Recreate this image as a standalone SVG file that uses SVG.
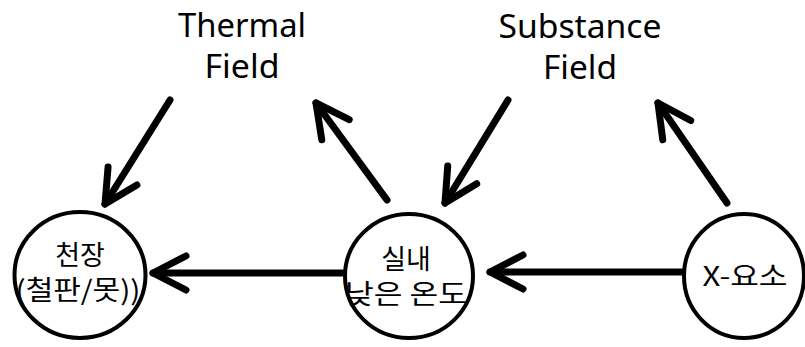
<svg xmlns="http://www.w3.org/2000/svg" width="805" height="347" viewBox="0 0 805 347">
  <style>
    .node { fill: #ffffff; stroke: #000000; stroke-width: 4; }
    .ko { font-family: "Noto Sans CJK KR", "Noto Sans", sans-serif; font-size: 27px; fill: #000000; text-anchor: middle; }
    .en { font-family: "Noto Sans", "Noto Sans CJK KR", sans-serif; font-size: 33px; fill: #000000; text-anchor: middle; }
    .conn { fill: none; stroke: #000000; stroke-width: 7; stroke-linecap: round; stroke-linejoin: round; }
  </style>
  <defs>
    <marker id="head" markerUnits="userSpaceOnUse" orient="auto" refX="0" refY="0" markerWidth="60" markerHeight="60" style="overflow:visible">
      <path d="M -33,-17 L 0,0 L -33,17" fill="none" stroke="#000000" stroke-width="7" stroke-linecap="round" stroke-linejoin="round"/>
    </marker>
  </defs>
  <rect width="805" height="347" fill="#ffffff"/>

  <g id="connectors">
    <path class="conn" d="M 170,100 L 105,204" marker-end="url(#head)"/>
    <path class="conn" d="M 387,200 L 316,103" marker-end="url(#head)"/>
    <path class="conn" d="M 508,100 L 445,203" marker-end="url(#head)"/>
    <path class="conn" d="M 727,203 L 658,103" marker-end="url(#head)"/>
    <path class="conn" d="M 343,273 L 153,273" marker-end="url(#head)"/>
    <path class="conn" d="M 682,272 L 490,272" marker-end="url(#head)"/>
  </g>

  <g id="thermal-field">
    <text class="en" x="242" y="37" textLength="128" lengthAdjust="spacingAndGlyphs">Thermal</text>
    <text class="en" x="242" y="78" textLength="75" lengthAdjust="spacingAndGlyphs">Field</text>
  </g>

  <g id="substance-field">
    <text class="en" x="580" y="38" textLength="163" lengthAdjust="spacingAndGlyphs">Substance</text>
    <text class="en" x="580" y="79" textLength="74" lengthAdjust="spacingAndGlyphs">Field</text>
  </g>

  <g id="ceiling">
    <ellipse class="node" cx="80" cy="275" rx="65.5" ry="63"/>
    <text class="ko" x="80" y="265">천장</text>
    <text class="ko" x="78" y="300" textLength="125" lengthAdjust="spacingAndGlyphs">(철판/못))</text>
  </g>

  <g id="indoor-low-temp">
    <ellipse class="node" cx="409" cy="276" rx="64" ry="62"/>
    <text class="ko" x="406" y="269">실내</text>
    <text class="ko" x="406" y="304" textLength="122" lengthAdjust="spacingAndGlyphs">낮은 온도</text>
  </g>

  <g id="x-element">
    <ellipse class="node" cx="744" cy="276" rx="60" ry="62"/>
    <text class="ko" x="745" y="286" textLength="85" lengthAdjust="spacingAndGlyphs">X-요소</text>
  </g>
</svg>
